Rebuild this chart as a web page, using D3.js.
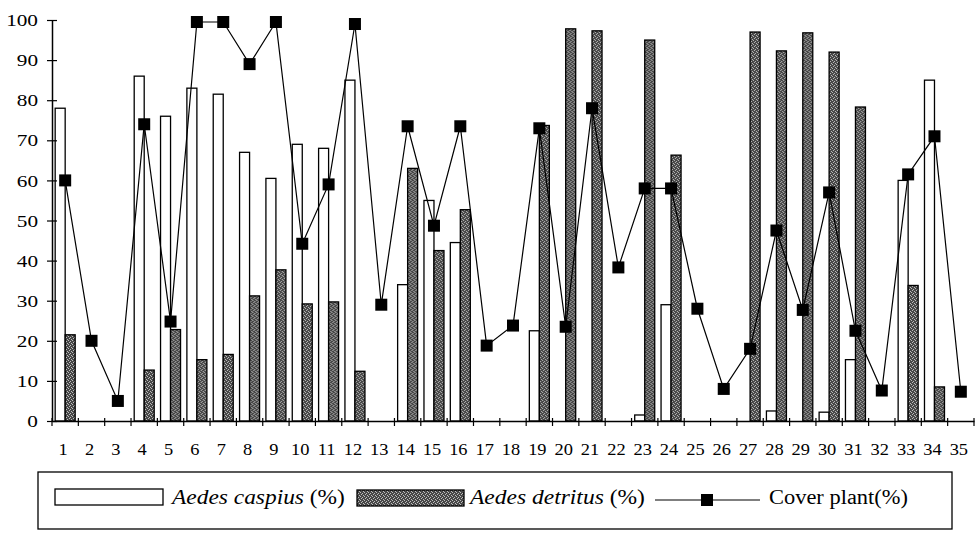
<!DOCTYPE html>
<html>
<head>
<meta charset="utf-8">
<script src="https://d3js.org/d3.v7.min.js"></script>
<style>
body { margin: 0; background: #fff; }
svg { display: block; }
text { font-family: 'Liberation Serif', 'Times New Roman', serif; fill: #000; }
</style>
</head>
<body>
<svg></svg>
<script>

var width = 979;
var height = 536;

// sampling sites along the x axis
var sites = ["1","2","3","4","5","6","7","8","9","10","11","12","13","14","15","16","17","18",
	"19","20","21","22","23","24","25","26","27","28","29","30","31","32","33","34","35"];

// Aedes caspius (%), white bars
var caspius = [78, 0, 0, 86, 76, 83, 81.5, 67, 60.5, 69, 68, 85, 0, 34, 55, 44.5, 0, 0,
	22.5, 0, 0, 0, 1.5, 29, 0, 0, 0, 2.5, 0, 2.2, 15.3, 0, 60, 85, 0];

// Aedes detritus (%), speckled bars
var detritus = [21.5, 0, 0, 12.7, 22.8, 15.3, 16.6, 31.2, 37.7, 29.2, 29.7, 12.4, 0, 63, 42.5, 52.7, 0, 0,
	73.7, 97.8, 97.3, 0, 95, 66.3, 0, 0, 97, 92.3, 96.8, 92, 78.3, 0, 33.8, 8.5, 0];

// Cover plant (%), line with square markers
var cover = [60, 20, 5, 74, 24.8, 99.5, 99.5, 89, 99.5, 44.2, 59, 99, 29, 73.5, 48.7, 73.5, 18.8, 23.8,
	73, 23.5, 78, 38.3, 58, 58, 28, 8, 18, 47.5, 27.7, 57, 22.5, 7.6, 61.5, 71, 7.3];

var yTicks = [0, 10, 20, 30, 40, 50, 60, 70, 80, 90, 100];

var svg = d3.select("svg").attr("width", width).attr("height", height);

var x = d3.scaleBand().domain(sites).range([52, 974]).padding(0);
var sub = d3.scaleBand().domain(["caspius", "detritus"]).range([0, x.bandwidth()]).paddingInner(0).paddingOuter(0.317);
var y = d3.scaleLinear().domain([0, 100]).range([421, 20]);

// speckled grey fill for the detritus bars
var pat = svg.append("defs").append("pattern")
	.attr("id", "speckle")
	.attr("patternUnits", "userSpaceOnUse")
	.attr("width", 4).attr("height", 4);
pat.append("rect").attr("width", 4).attr("height", 4).attr("fill", "#474747");
[[0, 0], [2, 1], [1, 2], [3, 3]].forEach(function (p) {
	pat.append("rect").attr("x", p[0]).attr("y", p[1]).attr("width", 1).attr("height", 1).attr("fill", "#bdbdbd");
});

var rows = sites.map(function (s, i) {
	return { site: s, caspius: caspius[i], detritus: detritus[i], cover: cover[i] };
});

// bars
var groups = svg.append("g").selectAll("g").data(rows).enter().append("g")
	.attr("transform", function (d) { return "translate(" + x(d.site) + ",0)"; });

groups.filter(function (d) { return d.caspius > 0; }).append("rect")
	.attr("x", sub("caspius"))
	.attr("width", sub.bandwidth())
	.attr("y", function (d) { return y(d.caspius); })
	.attr("height", function (d) { return y(0) - y(d.caspius); })
	.attr("fill", "#fff")
	.attr("stroke", "#000")
	.attr("stroke-width", 1.3);

groups.filter(function (d) { return d.detritus > 0; }).append("rect")
	.attr("x", sub("detritus"))
	.attr("width", sub.bandwidth())
	.attr("y", function (d) { return y(d.detritus); })
	.attr("height", function (d) { return y(0) - y(d.detritus); })
	.attr("fill", "url(#speckle)")
	.attr("stroke", "#000")
	.attr("stroke-width", 1.3);

// axes
var yAxis = svg.append("g").attr("transform", "translate(52,0)")
	.call(d3.axisLeft(y).tickValues(yTicks).tickSize(0).tickFormat(d3.format("d")))
	.attr("font-family", null).attr("font-size", null);
yAxis.select(".domain").attr("stroke", "#000").attr("stroke-width", 1.5);
yAxis.selectAll(".tick line").attr("x1", -5).attr("x2", 5).attr("stroke", "#000").attr("stroke-width", 1.2);
yAxis.selectAll(".tick text")
	.attr("x", 0).attr("dy", "0.33em")
	.attr("transform", "translate(-14,0) scale(1.25,1)")
	.style("font-size", "17px");

var xAxis = svg.append("g").attr("transform", "translate(0," + y(0) + ")")
	.call(d3.axisBottom(x).tickSize(0).tickSizeOuter(0))
	.attr("font-family", null).attr("font-size", null);
xAxis.select(".domain").attr("stroke", "#000").attr("stroke-width", 1.5);
xAxis.selectAll(".tick line")
	.attr("x1", -x.bandwidth() / 2).attr("x2", -x.bandwidth() / 2)
	.attr("y1", -3).attr("y2", 5).attr("stroke", "#000").attr("stroke-width", 1.2);
xAxis.append("line")
	.attr("x1", x.range()[1]).attr("x2", x.range()[1])
	.attr("y1", -3).attr("y2", 5).attr("stroke", "#000").attr("stroke-width", 1.2);
xAxis.selectAll(".tick text")
	.attr("y", 0).attr("dy", 0)
	.attr("transform", "translate(-2,34) scale(1.15,1)")
	.style("font-size", "16px");

// cover plant line
var line = d3.line()
	.x(function (d) { return x(d.site) + x.bandwidth() / 2; })
	.y(function (d) { return y(d.cover); });

svg.append("path").datum(rows)
	.attr("d", line)
	.attr("fill", "none")
	.attr("stroke", "#000")
	.attr("stroke-width", 1.2);

var ms = 12;
svg.append("g").selectAll("rect").data(rows).enter().append("rect")
	.attr("x", function (d) { return x(d.site) + x.bandwidth() / 2 - ms / 2; })
	.attr("y", function (d) { return y(d.cover) - ms / 2; })
	.attr("width", ms).attr("height", ms)
	.attr("fill", "#000");

// legend
var legend = svg.append("g");
legend.append("rect")
	.attr("x", 38).attr("y", 472).attr("width", 914).attr("height", 57)
	.attr("fill", "none").attr("stroke", "#000").attr("stroke-width", 1.3);

legend.append("rect").attr("x", 55).attr("y", 489).attr("width", 108).attr("height", 16)
	.attr("fill", "#fff").attr("stroke", "#000").attr("stroke-width", 1.3);
legend.append("rect").attr("x", 357).attr("y", 490).attr("width", 107).attr("height", 16)
	.attr("fill", "url(#speckle)").attr("stroke", "#000").attr("stroke-width", 1.3);
legend.append("line").attr("x1", 655).attr("x2", 760).attr("y1", 500).attr("y2", 500)
	.attr("stroke", "#000").attr("stroke-width", 1.2);
legend.append("rect").attr("x", 707 - ms / 2).attr("y", 500 - ms / 2).attr("width", ms).attr("height", ms)
	.attr("fill", "#000");

function legendText(x0, target, italicPart, plainPart) {
	var t = legend.append("text").attr("x", 0).attr("y", 0).style("font-size", "20px");
	if (italicPart) t.append("tspan").style("font-style", "italic").text(italicPart);
	t.append("tspan").text(plainPart);
	var len = t.node().getComputedTextLength();
	t.attr("transform", "translate(" + x0 + ",504) scale(" + (target / len) + ",1)");
}
legendText(172, 173, "Aedes caspius", " (%)");
legendText(470, 175, "Aedes detritus", " (%)");
legendText(769, 139, null, "Cover plant(%)");

</script>
</body>
</html>
